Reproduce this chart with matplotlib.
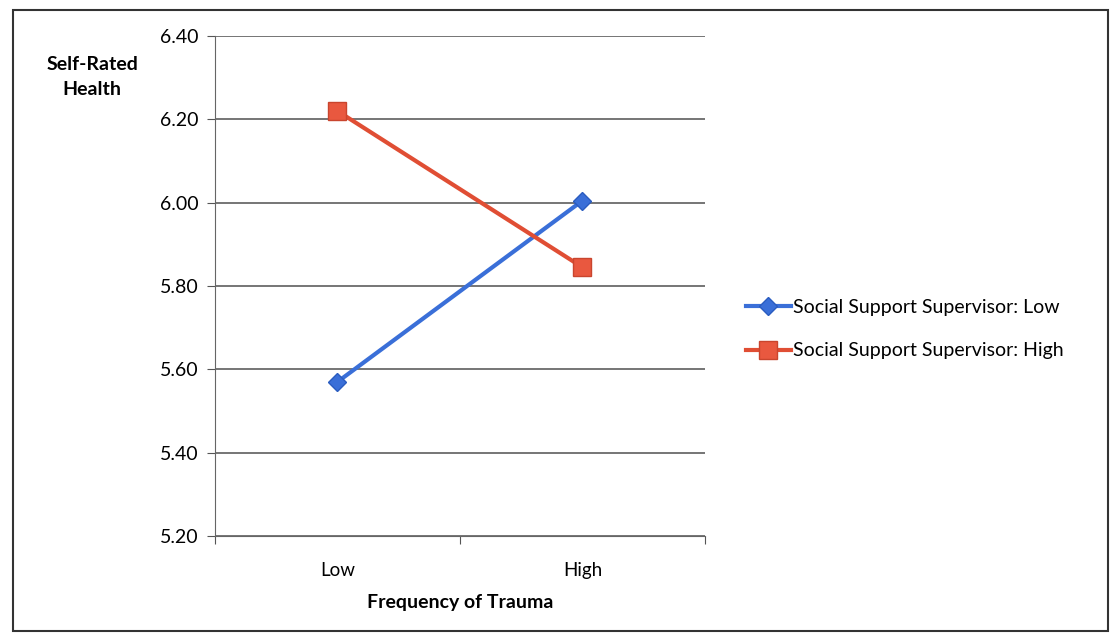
import matplotlib.pyplot as plt
from matplotlib.patches import Rectangle

categories = ['Low', 'High']
support_low = [5.57, 6.005]
support_high = [6.22, 5.845]
series_names = ['Social Support Supervisor: Low', 'Social Support Supervisor: High']
y_ticks = [5.20, 5.40, 5.60, 5.80, 6.00, 6.20, 6.40]

plt.rcParams['font.family'] = ['Lato', 'DejaVu Sans']

fig = plt.figure(figsize=(11.12, 6.42), dpi=100)
fig.patches.append(Rectangle((0.012, 0.017), 0.984, 0.968, transform=fig.transFigure,
                             fill=False, edgecolor='#333333', linewidth=1.5))

ax = fig.add_axes([0.1933, 0.165, 0.4407, 0.7789])
x = range(len(categories))
ax.plot(x, support_low, color='#3a6fd8', linewidth=3, marker='D', markersize=9,
        markerfacecolor='#3a6fd8', markeredgecolor='#2a5cc0', label=series_names[0])
ax.plot(x, support_high, color='#e04e34', linewidth=3, marker='s', markersize=13,
        markerfacecolor='#e9583f', markeredgecolor='#c9452e', label=series_names[1])

ax.set_xlim(-0.5, 1.5)
ax.set_ylim(5.2, 6.4)
ax.set_yticks(y_ticks)
ax.set_yticklabels(['{:.2f}'.format(v) for v in y_ticks], fontsize=14)
ax.set_xticks([-0.5, 0.5, 1.5])
ax.set_xticklabels([])
ax.set_xticks(list(x), minor=True)
ax.set_xticklabels(categories, minor=True, fontsize=13.5)
ax.tick_params(axis='x', which='minor', length=0, pad=19)
ax.tick_params(axis='x', which='major', length=6, color='#555555')
ax.tick_params(axis='y', length=6, color='#555555', pad=6)
ax.yaxis.grid(True, color='#5e5e5e', linewidth=1.2)
ax.set_axisbelow(True)
for s in ['top', 'right']:
    ax.spines[s].set_visible(False)
ax.spines['left'].set_color('#666666')
ax.spines['bottom'].set_color('#666666')

fig.text(0.083, 0.88, 'Self-Rated\nHealth', ha='center', va='center',
         fontsize=14, fontweight='bold', linespacing=1.6)
fig.text(0.414, 0.062, 'Frequency of Trauma', ha='center', va='center',
         fontsize=14, fontweight='bold')

fig.legend(loc='center left', bbox_to_anchor=(0.655, 0.487), frameon=False,
           fontsize=14, handlelength=2.3, handletextpad=0.1, labelspacing=1.35)

fig.savefig('out.png', dpi=100)
